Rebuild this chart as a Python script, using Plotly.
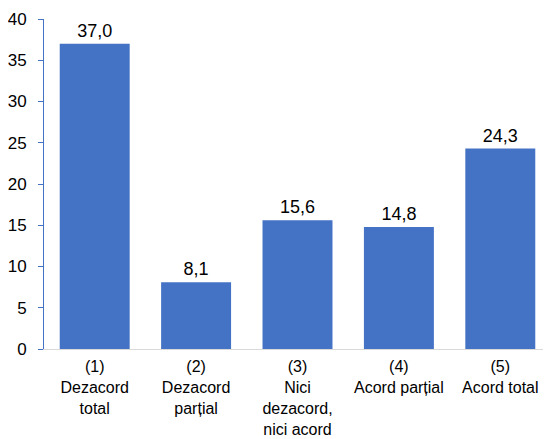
import plotly.graph_objects as go

categories = ["(1)<br>Dezacord<br>total", "(2)<br>Dezacord<br>parțial", "(3)<br>Nici<br>dezacord,<br>nici acord",
              "(4)<br>Acord parțial", "(5)<br>Acord total"]
values = [37.0, 8.1, 15.6, 14.8, 24.3]
y_ticks = [0, 5, 10, 15, 20, 25, 30, 35, 40]

FONT = "Liberation Sans, Arial, sans-serif"

fig = go.Figure(go.Bar(
    x=categories, y=values,
    marker=dict(color="#4472C4", line=dict(width=0)),
    texttemplate="%{y:.1f}", textposition="outside",
    textfont=dict(family=FONT, size=18, color="#000000"),
    cliponaxis=False,
))

# page body has an 8px margin, so the figure is shifted by 8px right/down
fig.update_layout(
    width=543, height=431,
    margin=dict(l=36, r=0, t=11, b=90, autoexpand=False),
    paper_bgcolor="white", plot_bgcolor="white",
    separators=",.",
    bargap=0.31,
    showlegend=False,
    font=dict(family=FONT, size=17, color="#000000"),
)
fig.update_yaxes(
    range=[0, 40], tickvals=y_ticks, showgrid=False, zeroline=False,
    showline=True, linecolor="#4472C4", linewidth=1,
    ticks="outside", ticklen=5, tickcolor="#4472C4",
    tickfont=dict(size=17), ticklabelstandoff=8,
)
fig.update_xaxes(
    showline=True, linecolor="#D9D9D9", linewidth=1, showgrid=False,
    ticks="", tickfont=dict(size=16), tickangle=0, ticklabelstandoff=3,
)

fig.write_html("out.html")
